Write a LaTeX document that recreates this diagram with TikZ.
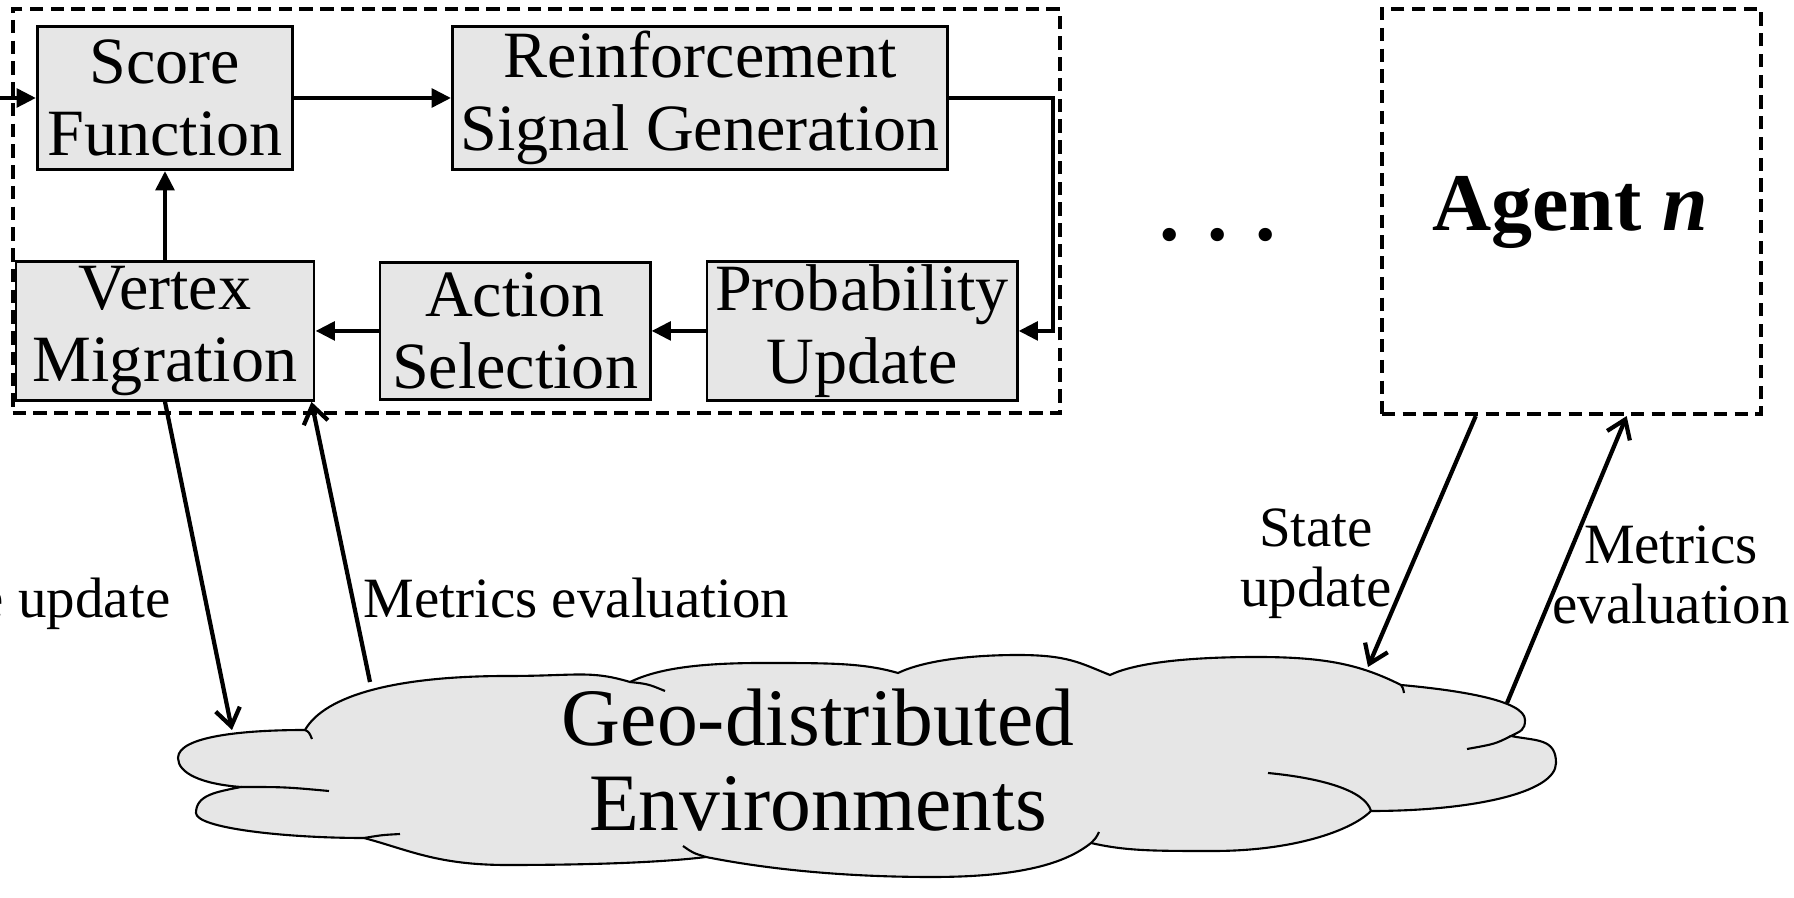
\documentclass[tikz,border=0pt]{standalone}
\usepackage{fontspec}
\setmainfont{Liberation Serif}
\usetikzlibrary{positioning,arrows.meta,calc}
\definecolor{boxgray}{HTML}{E6E6E6}

\begin{document}
\begin{tikzpicture}[x=0.01cm, y=-0.01cm,
        block/.style={draw, line width=0.8pt, fill=boxgray, inner sep=0pt, align=center,
            font=\fontsize{18.8}{20.6}\selectfont},
        frame/.style={draw, line width=1.1pt, dash pattern=on 3.8pt off 2.1pt, inner sep=0pt},
        flow/.style={line width=1.3pt, -{Triangle[length=5.5pt, width=5.2pt]}},
        link/.style={line width=1.2pt, -{Straight Barb[length=5pt, width=7pt]}},
        lbl/.style={inner sep=0pt, align=center, font=\fontsize{16.2}{17.1}\selectfont}]
    \useasboundingbox (0,0) rectangle (1794,898);

    % agent 1 and its blocks
    \node [frame, minimum width=10.47cm, minimum height=4.04cm] (ag1) at (536.5,211) {};
    \node [block, minimum width=2.55cm, minimum height=1.43cm] (sf) at (165,98) {Score\\Function};
    \node [block, right=1.57cm of sf, minimum width=4.95cm, minimum height=1.43cm] (rsg) {Reinforcement\\Signal Generation};
    \node [block, below=0.89cm of sf, minimum width=2.98cm, minimum height=1.39cm] (vm) {Vertex\\Migration};
    \node [block, right=0.63cm of vm, minimum width=2.70cm, minimum height=1.37cm] (as) {Action\\Selection};
    \node [block, right=0.54cm of as, minimum width=3.10cm, minimum height=1.39cm] (pu) {Probability\\Update};
    \coordinate (feed) at (-10,98);

    % agent n
    \node [inner sep=0pt, anchor=base, font=\fontsize{23.3}{28}\selectfont\bfseries] (dots) at (1218,241) {. . .};
    \node [frame, minimum width=3.79cm, minimum height=4.05cm] (agn) at (1571.5,211.5) {};
    \node [inner sep=0pt, anchor=base, font=\fontsize{23.3}{28}\selectfont\bfseries] (agnt) at (1570,231) {Agent \textit{n}};

    % environment cloud
    \draw [fill=boxgray, line width=0.6pt]
        (305,730) .. controls (325,695) and (397,676) .. (507,676)
        .. controls (577,676) and (590,670) .. (630,682)
        .. controls (655,670) and (692,663) .. (762,663)
        .. controls (832,663) and (863,663) .. (898,673)
        .. controls (923,661) and (968,655) .. (1018,655)
        .. controls (1068,655) and (1080,663) .. (1110,675)
        .. controls (1135,663) and (1187,657) .. (1257,657)
        .. controls (1327,657) and (1361,665) .. (1401,685)
        .. controls (1456,690) and (1525,700) .. (1525,720)
        .. controls (1525,730) and (1521,731) .. (1511,736)
        .. controls (1536,741) and (1556,738) .. (1556,763)
        .. controls (1556,793) and (1471,811) .. (1371,811)
        .. controls (1351,831) and (1293,851) .. (1213,851)
        .. controls (1153,851) and (1126,851) .. (1091,843)
        .. controls (1066,863) and (1022,877) .. (932,877)
        .. controls (832,877) and (756,867) .. (706,857)
        .. controls (666,862) and (597,865) .. (507,865)
        .. controls (437,865) and (409,850) .. (364,838)
        .. controls (284,838) and (196,828) .. (196,813)
        .. controls (196,795) and (216,792) .. (241,787)
        .. controls (201,784) and (178,773) .. (178,758)
        .. controls (178,736) and (245,730) .. (305,730) -- cycle;
    \draw [line width=0.6pt] (305,730) .. controls (309,732) .. (312,739);
    \draw [line width=0.6pt] (241,787) .. controls (285,787) .. (329,791);
    \draw [line width=0.6pt] (364,838) .. controls (382,835) .. (400,834);
    \draw [line width=0.6pt] (706,857) .. controls (693,853) .. (683,846);
    \draw [line width=0.6pt] (630,682) .. controls (648,684) .. (665,691);
    \draw [line width=0.6pt] (1401,685) .. controls (1403,688) .. (1404,693);
    \draw [line width=0.6pt] (1511,736) .. controls (1495,744) .. (1467,749);
    \draw [line width=0.6pt] (1371,811) .. controls (1365,790) and (1320,778) .. (1268,773);
    \draw [line width=0.6pt] (1091,843) .. controls (1096,838) .. (1099,832);
    \node [inner sep=0pt, align=center, font=\fontsize{23.2}{24.2}\selectfont] (env) at (818,760) {Geo-distributed\\Environments};
    \coordinate (envl) at (232,730);
    \coordinate (envm) at (370,682);
    \coordinate (envr) at (1368,667);
    \coordinate (envs) at (1507,703);

    % labels
    \node [lbl, anchor=base east] (su1) at (171,618) {State update};
    \node [lbl, anchor=base west] (me1) at (363,618) {Metrics evaluation};
    \node [lbl] (sun) at (1316,564) {State\\update};
    \node [lbl] (men) at (1671,575) {Metrics\\evaluation};

    % connectors
    \draw [flow] (feed) -- (sf.west);
    \draw [flow] (sf) -- (rsg);
    \draw [flow] (rsg.east) -- ++(104,0) |- (pu.east);
    \draw [flow] (pu) -- (as);
    \draw [flow] (as) -- (vm);
    \draw [flow] (vm) -- (sf);
    \draw [link] (vm.south) -- (envl);
    \draw [link] (envm) -- ($(vm.south east)+(-4,0)$);
    \draw [link] ($(agn.south west)!0.25!(agn.south east)$) -- (envr);
    \draw [link] (envs) -- ($(agn.south west)!0.644!(agn.south east)$);
\end{tikzpicture}
\end{document}
